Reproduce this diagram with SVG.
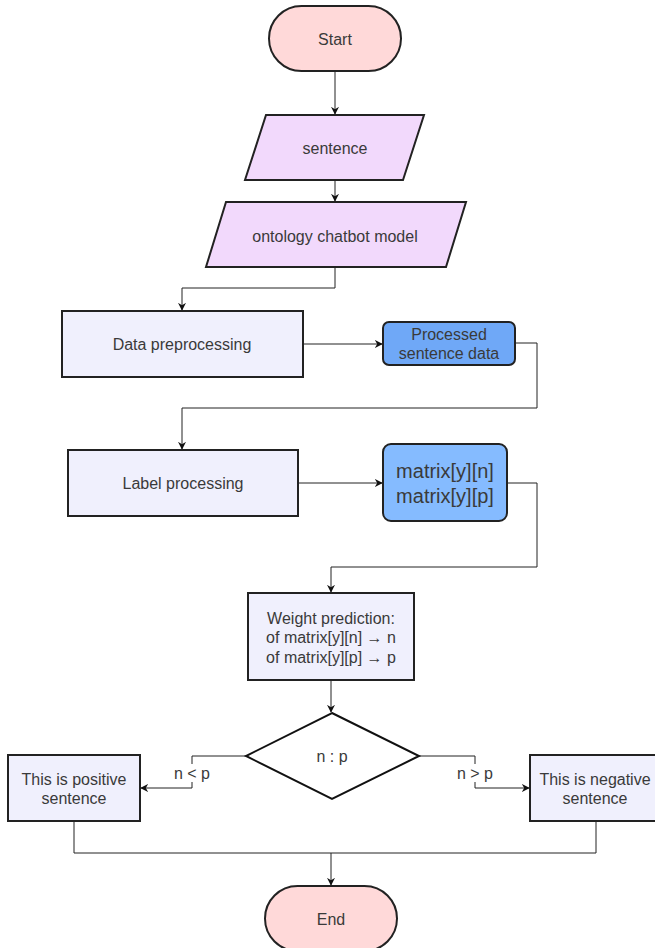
<svg xmlns="http://www.w3.org/2000/svg" width="655" height="948" viewBox="0 0 655 948">
  <style>
    text { font-family: "Liberation Sans", Arial, sans-serif; fill: #3a3a3a; text-anchor: middle; dominant-baseline: central; }
    .t14 { font-size: 16px; }
    .t16 { font-size: 20px; }
    .term { fill: #ffd9d9; stroke: #222222; stroke-width: 2; }
    .io { fill: #f2d9fc; stroke: #222222; stroke-width: 2; }
    .proc { fill: #f0f0fd; stroke: #222222; stroke-width: 2; }
    .data1 { fill: #6fa8f7; stroke: #222222; stroke-width: 2; }
    .data2 { fill: #85bbff; stroke: #222222; stroke-width: 2; }
    .dec { fill: #ffffff; stroke: #111111; stroke-width: 2; }
    .edge { fill: none; stroke: #222222; stroke-width: 1; }
    .lbl { fill: #ffffff; }
  </style>
  <defs>
    <marker id="arrow" viewBox="0 0 10 10" refX="9" refY="5" markerWidth="8" markerHeight="8" orient="auto" markerUnits="userSpaceOnUse">
      <path d="M0,0 L10,5 L0,10 L3,5 Z" fill="#111111"/>
    </marker>
  </defs>
  <rect width="655" height="948" fill="#ffffff"/>

  <!-- connectors -->
  <g id="connectors">
    <path class="edge" d="M335,71 V114" marker-end="url(#arrow)"/>
    <path class="edge" d="M335,180 V201" marker-end="url(#arrow)"/>
    <path class="edge" d="M335,267 V288 H182 V310" marker-end="url(#arrow)"/>
    <path class="edge" d="M303,344 H382" marker-end="url(#arrow)"/>
    <path class="edge" d="M515,343 H537 V408 H182 V449" marker-end="url(#arrow)"/>
    <path class="edge" d="M298,483 H382" marker-end="url(#arrow)"/>
    <path class="edge" d="M507,483 H537 V567 H331 V592" marker-end="url(#arrow)"/>
    <path class="edge" d="M331,680 V712" marker-end="url(#arrow)"/>
    <path class="edge" d="M246,756 H192 V788 H141" marker-end="url(#arrow)"/>
    <path class="edge" d="M419,756 H475 V788 H529" marker-end="url(#arrow)"/>
    <path class="edge" d="M74,821 V853 H596 V821"/>
    <path class="edge" d="M331,853 V885" marker-end="url(#arrow)"/>
    <rect class="lbl" x="172" y="764" width="40" height="18"/>
    <text class="t14" x="192" y="773">n &lt; p</text>
    <rect class="lbl" x="455" y="764" width="40" height="18"/>
    <text class="t14" x="475" y="773">n &gt; p</text>
  </g>

  <g id="start">
    <rect class="term" x="269" y="6" width="132" height="65" rx="32.5"/>
    <text class="t14" x="335" y="39">Start</text>
  </g>

  <g id="sentence">
    <polygon class="io" points="266,115 424,115 403,180 245,180"/>
    <text class="t14" x="335" y="148">sentence</text>
  </g>

  <g id="ontology-model">
    <polygon class="io" points="226,202 466,202 446,267 206,267"/>
    <text class="t14" x="335" y="236">ontology chatbot model</text>
  </g>

  <g id="data-preprocessing">
    <rect class="proc" x="62" y="311" width="241" height="66"/>
    <text class="t14" x="182" y="344">Data preprocessing</text>
  </g>

  <g id="processed-data">
    <rect class="data1" x="383" y="322" width="132" height="43" rx="6"/>
    <text class="t14" x="449" y="334">Processed</text>
    <text class="t14" x="449" y="353">sentence data</text>
  </g>

  <g id="label-processing">
    <rect class="proc" x="68" y="450" width="230" height="66"/>
    <text class="t14" x="183" y="483">Label processing</text>
  </g>

  <g id="matrix">
    <rect class="data2" x="383" y="444" width="124" height="77" rx="8"/>
    <text class="t16" x="445" y="471">matrix[y][n]</text>
    <text class="t16" x="445" y="496">matrix[y][p]</text>
  </g>

  <g id="weight-prediction">
    <rect class="proc" x="248" y="593" width="166" height="87"/>
    <text class="t14" x="331" y="618">Weight prediction:</text>
    <text class="t14" x="331" y="637">of matrix[y][n] → n</text>
    <text class="t14" x="331" y="657">of matrix[y][p] → p</text>
  </g>

  <g id="compare">
    <polygon class="dec" points="332,713 419,756 332,799 246,756"/>
    <text class="t14" x="332" y="756">n : p</text>
  </g>

  <g id="positive">
    <rect class="proc" x="8" y="755" width="132" height="66"/>
    <text class="t14" x="74" y="779">This is positive</text>
    <text class="t14" x="74" y="798">sentence</text>
  </g>

  <g id="negative">
    <rect class="proc" x="530" y="755" width="132" height="66"/>
    <text class="t14" x="595" y="779">This is negative</text>
    <text class="t14" x="595" y="798">sentence</text>
  </g>

  <g id="end">
    <rect class="term" x="265" y="886" width="132" height="65" rx="32.5"/>
    <text class="t14" x="331" y="919">End</text>
  </g>
</svg>
